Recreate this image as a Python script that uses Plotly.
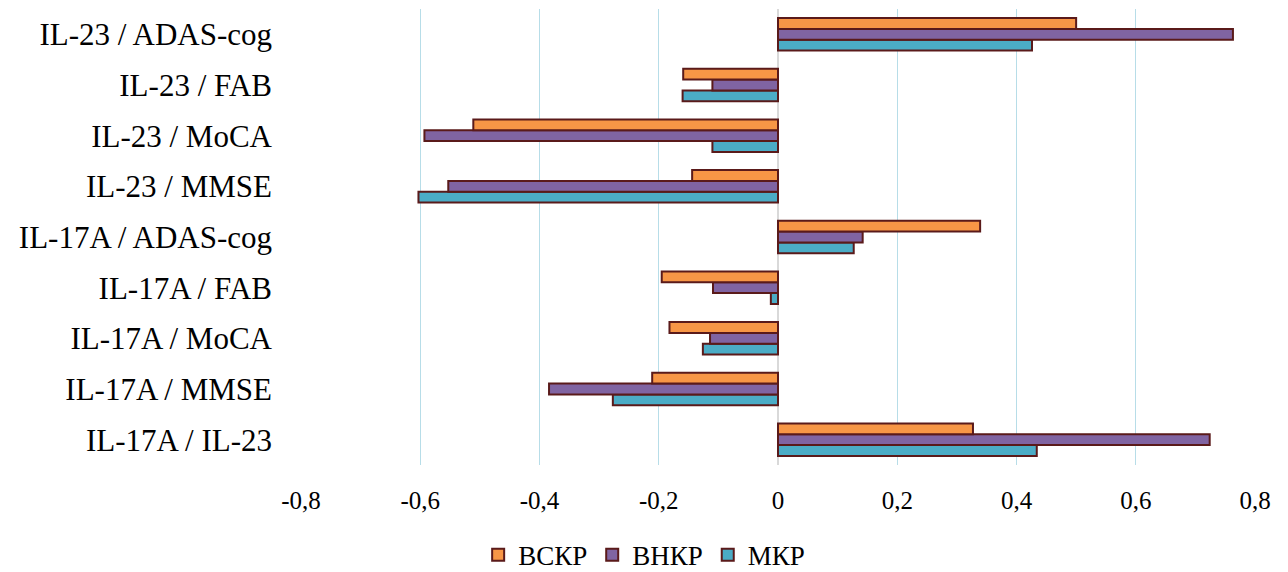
import plotly.graph_objects as go

categories = ["IL-17A / IL-23", "IL-17A / MMSE", "IL-17A / MoCA", "IL-17A / FAB",
              "IL-17A / ADAS-cog", "IL-23 / MMSE", "IL-23 / MoCA", "IL-23 / FAB",
              "IL-23 / ADAS-cog"]
bckp = [0.327, -0.211, -0.182, -0.195, 0.339, -0.144, -0.511, -0.159, 0.50]
bhkp = [0.724, -0.384, -0.114, -0.109, 0.142, -0.553, -0.593, -0.110, 0.763]
mkp = [0.434, -0.277, -0.126, -0.012, 0.127, -0.603, -0.110, -0.160, 0.426]
tick_vals = [-0.8, -0.6, -0.4, -0.2, 0, 0.2, 0.4, 0.6, 0.8]
tick_text = ["-0,8", "-0,6", "-0,4", "-0,2", "0", "0,2", "0,4", "0,6", "0,8"]

SERIF = "Liberation Serif"

fig = go.Figure()
series = [("МКР", mkp, "#4BACC6", 3), ("ВНКР", bhkp, "#8064A2", 2), ("ВСКР", bckp, "#F79646", 1)]
for name, vals, color, rank in series:
    fig.add_trace(go.Bar(
        y=categories, x=vals, name=name, orientation="h",
        marker=dict(color=color, line=dict(color="#5A1A1A", width=2)),
        legendrank=rank,
    ))

fig.update_layout(
    width=1280, height=564,
    margin=dict(l=293, r=33, t=1, b=107),
    paper_bgcolor="white", plot_bgcolor="white",
    barmode="group", bargap=0.36, bargroupgap=0,
    font=dict(family=SERIF, size=22, color="black"),
    xaxis=dict(range=[-0.8, 0.8], tickvals=tick_vals, ticktext=tick_text,
               showgrid=True, gridcolor="#B7DDE8", gridwidth=1,
               zeroline=True, zerolinecolor="#D9D9D9", zerolinewidth=2,
               showline=False, ticklabelstandoff=18, automargin=False,
               tickfont=dict(family=SERIF, size=25, color="black")),
    yaxis=dict(categoryorder="array", categoryarray=categories,
               showgrid=False, showline=False, ticklabelstandoff=28, automargin=False,
               tickfont=dict(family=SERIF, size=31, color="black")),
    legend=dict(orientation="h", xref="container", yref="container",
                x=0.497, xanchor="center", y=0.03, yanchor="middle",
                font=dict(family=SERIF, size=27, color="black"), traceorder="normal",
                itemwidth=30),
    showlegend=True,
)

fig.write_html("out.html")
